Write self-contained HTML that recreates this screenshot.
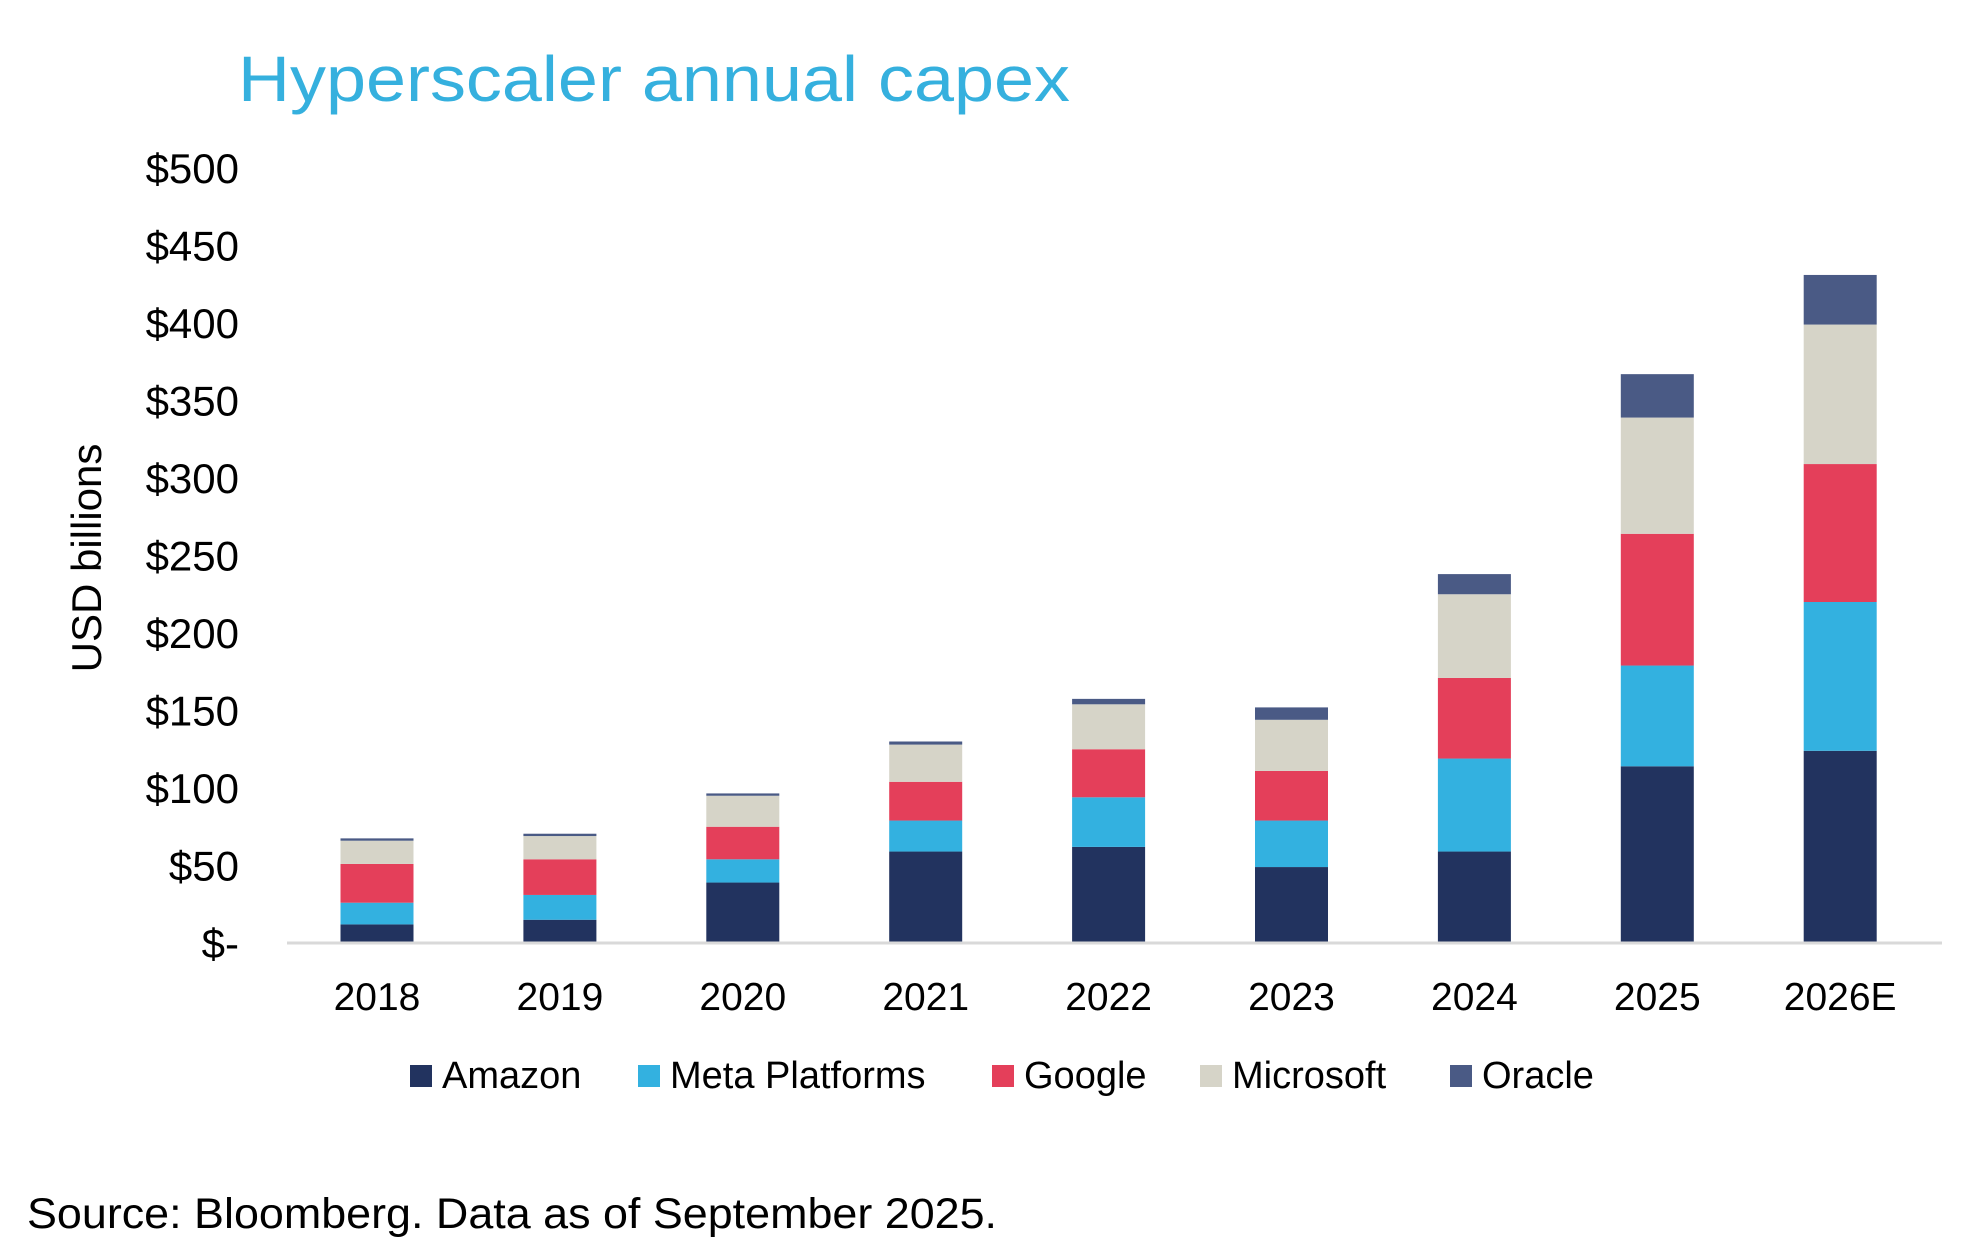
<!DOCTYPE html>
<html><head><meta charset="utf-8"><style>
body{margin:0;background:#fff;}
svg text{font-family:"Liberation Sans",sans-serif;}
</style></head><body>
<svg width="1981" height="1251" viewBox="0 0 1981 1251" xmlns="http://www.w3.org/2000/svg">
<text x="238" y="101" font-size="64" fill="#35b0de" textLength="832" lengthAdjust="spacingAndGlyphs">Hyperscaler annual capex</text>
<text transform="translate(101,558) rotate(-90)" text-anchor="middle" font-size="42" fill="#000">USD billions</text>
<g id="yaxis"></g>
<g id="bars"></g>
<line x1="287" y1="943" x2="1942" y2="943" stroke="#d9d9d9" stroke-width="3"/>
<g id="xaxis"></g>
<g id="legend"></g>
<text x="27" y="1228" font-size="43" fill="#000" textLength="970" lengthAdjust="spacingAndGlyphs">Source: Bloomberg. Data as of September 2025.</text>
</svg>
<script>
const categories = ["2018","2019","2020","2021","2022","2023","2024","2025","2026E"];
const amazon = [12,15,39,59,62,49,59,114,124];
const meta = [14,16,15,20,32,30,60,65,96];
const google = [25,23,21,25,31,32,52,85,89];
const microsoft = [15,15,20,24,29,33,54,75,90];
const oracle = [1.5,1.5,1.5,2,3.5,8,13,28,32];
const yTicks = [0,50,100,150,200,250,300,350,400,450,500];
const yTickLabels = ["$-","$50","$100","$150","$200","$250","$300","$350","$400","$450","$500"];
const seriesNames = ["Amazon","Meta Platforms","Google","Microsoft","Oracle"];

const NS="http://www.w3.org/2000/svg";
const colors=["#22335f","#33b1e0","#e43f5a","#d6d4c8","#4a5a85"];
const base=943, pxPerUnit=1.55;
function y(v){return base - v*pxPerUnit;}
function x(i){return 377 + i*182.9;}
const barW=73;
function mk(tag,attrs,parent){const e=document.createElementNS(NS,tag);for(const k in attrs)e.setAttribute(k,attrs[k]);parent.appendChild(e);return e;}
const ya=document.getElementById('yaxis');
yTicks.forEach((t,i)=>{
  const e=mk('text',{x:239,y:y(t)+15,'text-anchor':'end','font-size':42,fill:'#000'},ya);
  e.textContent=yTickLabels[i];
  
  
});
const series=[amazon,meta,google,microsoft,oracle];
const bg=document.getElementById('bars');
categories.forEach((c,i)=>{
  let acc=0;
  series.forEach((s,k)=>{
    const v=s[i];
    const r=mk('rect',{x:x(i)-barW/2,y:y(acc+v),width:barW,height:v*pxPerUnit,fill:colors[k]},bg);
    
    
    acc+=v;
  });
});
const xa=document.getElementById('xaxis');
categories.forEach((c,i)=>{
  const e=mk('text',{x:x(i),y:1010,'text-anchor':'middle','font-size':39,fill:'#000'},xa);
  e.textContent=c;
  
  
});
const lg=document.getElementById('legend');
const lx=[410,638,992,1200,1450];
seriesNames.forEach((n,k)=>{
  const g=mk('g',{},lg);
  
  
  mk('rect',{x:lx[k],y:1065,width:22,height:22,fill:colors[k]},g);
  const t=mk('text',{x:lx[k]+32,y:1088,'font-size':38,fill:'#000'},g);
  t.textContent=n;
});
</script>
</body></html>
